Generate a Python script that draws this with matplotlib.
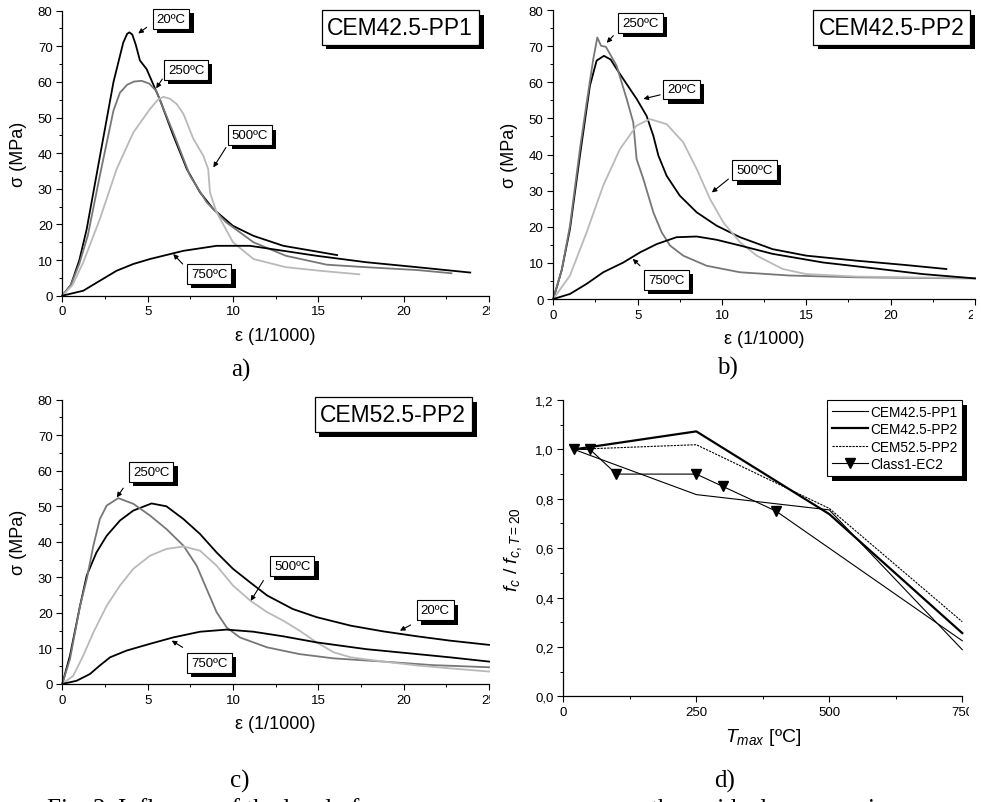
import matplotlib
matplotlib.use("Agg")
import matplotlib.pyplot as plt
import matplotlib.patheffects as pe
from matplotlib.ticker import MultipleLocator
from matplotlib.transforms import Bbox, TransformedBbox

plt.rcParams['font.family'] = ['Liberation Sans', 'DejaVu Sans']
plt.rcParams['mathtext.fontset'] = 'custom'
plt.rcParams['mathtext.rm'] = 'Liberation Sans'
plt.rcParams['mathtext.it'] = 'Liberation Sans:italic'

# ---- panel a) CEM42.5-PP1 ----
a_20_x = [0, 0.5, 1.0, 1.43, 2.2, 3.0, 3.57, 3.8, 3.93, 4.1, 4.3, 4.55, 4.94, 5.72, 6.5, 7.3, 8.07, 8.85, 10.0, 11.2, 12.95, 14.9, 16.1]
a_20_y = [0, 3, 10, 18.7, 39, 60, 71, 73.5, 73.9, 73.3, 70.5, 66, 63.6, 55, 45, 35.5, 29, 24.3, 19.6, 16.8, 14, 12.4, 11.4]
a_250_x = [0, 0.5, 1.0, 1.5, 2.2, 3.0, 3.38, 3.8, 4.2, 4.65, 5.1, 5.5, 6.5, 7.48, 8.46, 9.6, 11.2, 13.1, 15.5, 17.8, 20.8, 22.8]
a_250_y = [0, 3, 9, 17, 33.7, 52, 57, 59.2, 60.1, 60.3, 59.5, 57.5, 45.8, 33.7, 26.2, 20.6, 15, 11.2, 8.7, 8, 7.2, 6.3]
a_500_x = [0, 0.6, 1.23, 2.2, 3.18, 4.16, 5.14, 5.6, 5.92, 6.3, 6.7, 7.1, 7.68, 8.26, 8.55, 8.65, 9.04, 10.0, 11.2, 13.1, 15.1, 17.4]
a_500_y = [0, 3, 9.4, 21.5, 35.5, 45.8, 52.4, 55, 55.8, 55.3, 53.8, 51, 44, 39.3, 35.5, 29, 23.4, 15, 10.3, 8, 7, 6]
a_750_x = [0, 1.23, 2.2, 3.18, 4.16, 5.14, 7.1, 9.04, 11.0, 12.95, 14.9, 17.8, 20.8, 23.9]
a_750_y = [0, 1.4, 4.2, 7, 8.9, 10.3, 12.6, 14, 14, 12.6, 11.2, 9.4, 8, 6.5]

# ---- panel b) CEM42.5-PP2 ----
b_20_x = [0, 0.5, 0.99, 1.58, 2.17, 2.57, 3.0, 3.4, 3.75, 4.35, 4.94, 5.53, 5.93, 6.23, 6.72, 7.5, 8.5, 9.68, 11.07, 13.0, 15.0, 18.0, 20.9, 23.3]
b_20_y = [0, 8, 19.4, 39.7, 59, 66, 67.3, 66.3, 63.7, 59.5, 55.4, 50.7, 45.2, 39.7, 34.1, 28.6, 24, 20.3, 17.1, 13.8, 12, 10.6, 9.4, 8.3]
b_250_x = [0, 0.5, 0.99, 1.58, 1.98, 2.37, 2.61, 2.83, 3.12, 3.4, 3.75, 4.35, 4.74, 4.94, 5.34, 5.93, 6.42, 6.92, 7.7, 9.09, 11.07, 14.0, 18.0, 22.0, 25.0]
b_250_y = [0, 8, 20.3, 41.5, 54.4, 66.4, 72.4, 70.1, 69.8, 67.5, 64.6, 55.4, 48.9, 38.7, 33.2, 24, 18.5, 14.8, 12, 9.2, 7.4, 6.5, 6, 5.8, 5.7]
b_500_x = [0, 0.99, 1.98, 2.96, 3.95, 4.94, 5.73, 6.72, 7.7, 8.5, 9.29, 10.08, 11.07, 12.06, 13.6, 15.0, 18.0, 21.0, 25.0]
b_500_y = [0, 6.5, 18.5, 31.4, 41.5, 48, 49.8, 48.4, 43.4, 36, 27.7, 21.2, 15.7, 12, 8.3, 6.9, 6.2, 6.0, 5.8]
b_750_x = [0, 0.99, 1.98, 2.96, 4.15, 5.14, 6.13, 7.3, 8.5, 9.68, 11.07, 13.0, 16.0, 19.0, 21.9, 25.0]
b_750_y = [0, 1.4, 4.2, 7.4, 10.1, 12.9, 15.2, 17.1, 17.3, 16.4, 14.8, 12.5, 10.1, 8.5, 6.9, 5.7]

# ---- panel c) CEM52.5-PP2 ----
c_20_x = [0, 0.45, 1.04, 1.43, 2.0, 2.6, 3.38, 4.16, 5.23, 6.1, 7.1, 8.07, 9.04, 10.0, 11.0, 12.0, 13.5, 14.9, 16.9, 18.8, 20.8, 22.7, 25.0]
c_20_y = [0, 8, 22, 30.5, 37, 41.7, 46, 48.8, 50.8, 50, 46.4, 42.2, 37, 32.4, 28.6, 24.9, 21.1, 18.8, 16.4, 14.8, 13.4, 12.2, 11]
c_250_x = [0, 0.45, 1.04, 1.43, 1.82, 2.2, 2.6, 3.28, 4.16, 5.14, 6.1, 7.1, 7.87, 8.46, 9.04, 9.63, 10.4, 12.0, 13.9, 15.9, 18.8, 21.7, 25.0]
c_250_y = [0, 7, 22, 29.5, 38.9, 46.4, 50.2, 52.3, 50.7, 47.4, 43.6, 38.9, 33.3, 26.7, 20.2, 15.9, 13.1, 10.3, 8.4, 7.2, 6.3, 5.3, 4.7]
c_500_x = [0, 0.64, 1.23, 1.82, 2.6, 3.38, 4.16, 5.14, 6.1, 7.1, 8.07, 9.04, 10.0, 11.0, 12.0, 12.95, 13.9, 14.9, 15.9, 16.9, 18.8, 20.8, 22.7, 25.0]
c_500_y = [0, 2.3, 8, 14.5, 22, 27.7, 32.4, 36.1, 38, 38.7, 37.5, 33.3, 27.7, 23.5, 20.2, 17.8, 15, 11.7, 8.9, 7.5, 6.3, 5.2, 4.4, 3.5]
c_750_x = [0, 0.84, 1.62, 2.2, 2.8, 3.77, 5.14, 6.5, 8.07, 9.63, 11.2, 12.95, 14.9, 17.8, 20.8, 22.7, 25.0]
c_750_y = [0, 0.9, 2.8, 5.2, 7.5, 9.4, 11.3, 13.1, 14.7, 15.3, 14.7, 13.4, 11.7, 9.8, 8.4, 7.5, 6.3]

# ---- panel d) residual strength ----
t_max = [20, 250, 500, 750]
pp1_ratio = [1.0, 0.817, 0.755, 0.189]
pp2_ratio = [1.0, 1.073, 0.738, 0.256]
pp2_525_ratio = [1.0, 1.019, 0.761, 0.302]
ec2_t = [20, 50, 100, 250, 300, 400, 500, 750]
ec2_ratio = [1.0, 1.0, 0.9, 0.9, 0.85, 0.75, 0.6, 0.225]

eps_ticks = [0, 5, 10, 15, 20, 25]
sig_ticks = [0, 10, 20, 30, 40, 50, 60, 70, 80]
t_ticks = [0, 250, 500, 750]
ratio_ticks = [0.0, 0.2, 0.4, 0.6, 0.8, 1.0, 1.2]
ratio_labels = ['0,0', '0,2', '0,4', '0,6', '0,8', '1,0', '1,2']

temps = ['20ºC', '250ºC', '500ºC', '750ºC']
colors = ['black', '#777777', '#b9b9b9', 'black']

# label box centre, arrow tail, arrow head (data coords) for each temperature
a_notes = [((6.37, 77.6), (4.94, 75.3), (4.45, 73.6)),
           ((7.25, 63.3), (5.86, 60.8), (5.5, 58.2)),
           ((11.0, 45.0), (9.59, 41.6), (8.85, 36.0)),
           ((8.61, 6.0), (7.05, 8.9), (6.5, 11.7))]
b_notes = [((7.62, 58.0), (6.33, 56.5), (5.34, 55.4)),
           ((5.17, 76.5), (3.56, 72.9), (3.17, 70.9)),
           ((11.93, 35.6), (10.38, 33.2), (9.4, 29.5)),
           ((6.71, 5.3), (5.14, 9.2), (4.71, 11.1))]
c_notes = [((21.85, 20.7), (20.41, 16.6), (19.78, 15.0)),
           ((5.21, 59.7), (3.57, 55.1), (3.19, 52.5)),
           ((13.47, 33.1), (11.78, 29.1), (11.04, 23.4)),
           ((8.62, 5.9), (7.05, 10.3), (6.41, 12.2))]

fig = plt.figure(figsize=(9.81, 8.03), dpi=100)


def shadow_box(txt, off):
    txt.get_bbox_patch().set_path_effects(
        [pe.SimplePatchShadow(offset=(off, -off), shadow_rgbFace='black', alpha=1.0), pe.Normal()])


def clip_labels(ax, right_px):
    box = TransformedBbox(Bbox.from_extents(0, 0, right_px / 981, 1), fig.transFigure)
    for lab in ax.get_xticklabels():
        lab.set_clip_box(box)
        lab.set_clip_on(True)


def style_axes(ax):
    for s in ['top', 'right']:
        ax.spines[s].set_visible(False)
    for s in ['left', 'bottom']:
        ax.spines[s].set_linewidth(0.9)
    ax.tick_params(which='major', direction='out', length=4, width=0.8, labelsize=9.5, pad=3)
    ax.tick_params(which='minor', direction='out', length=2.5, width=0.7)


def stress_panel(rect, curves, notes, title, title_pos, clip_px):
    ax = fig.add_axes(rect)
    for (xs, ys), c in zip(curves, colors):
        ax.plot(xs, ys, color=c, lw=1.3, clip_on=False, solid_joinstyle='round')
    ax.set_xlim(0, 25)
    ax.set_ylim(0, 80)
    ax.set_xticks(eps_ticks)
    ax.set_yticks(sig_ticks)
    ax.xaxis.set_minor_locator(MultipleLocator(2.5))
    ax.yaxis.set_minor_locator(MultipleLocator(5))
    style_axes(ax)
    ax.set_xlabel('ε (1/1000)', fontsize=13, labelpad=7)
    ax.set_ylabel('σ (MPa)', fontsize=13, labelpad=8)
    for lab, (pos, tail, head) in zip(temps, notes):
        t = ax.text(pos[0], pos[1], lab, fontsize=9.5, ha='center', va='center', zorder=5,
                    bbox=dict(boxstyle='square,pad=0.3', fc='white', ec='black', lw=0.8))
        shadow_box(t, 3)
        ax.annotate('', xy=head, xytext=tail, zorder=5,
                    arrowprops=dict(arrowstyle='-|>', color='black', lw=0.8, mutation_scale=7,
                                    shrinkA=0, shrinkB=0))
    t = ax.text(title_pos[0], title_pos[1], title, fontsize=16.5, ha='center', va='center', zorder=5,
                bbox=dict(boxstyle='square,pad=0.25', fc='white', ec='black', lw=0.9))
    shadow_box(t, 3.5)
    clip_labels(ax, clip_px)
    return ax


stress_panel([0.0635, 0.6305, 0.435, 0.355],
             [(a_20_x, a_20_y), (a_250_x, a_250_y), (a_500_x, a_500_y), (a_750_x, a_750_y)],
             a_notes, 'CEM42.5-PP1', (19.8, 75.3), 490)
stress_panel([0.564, 0.6264, 0.4299, 0.3599],
             [(b_20_x, b_20_y), (b_250_x, b_250_y), (b_500_x, b_500_y), (b_750_x, b_750_y)],
             b_notes, 'CEM42.5-PP2', (20.07, 75.2), 973)
stress_panel([0.0635, 0.147, 0.435, 0.354],
             [(c_20_x, c_20_y), (c_250_x, c_250_y), (c_500_x, c_500_y), (c_750_x, c_750_y)],
             c_notes, 'CEM52.5-PP2', (19.39, 75.8), 490)

# ---- d) ----
ax = fig.add_axes([0.5742, 0.1316, 0.4067, 0.369])
ax.plot(t_max, pp1_ratio, color='black', lw=0.8, label='CEM42.5-PP1', clip_on=False)
ax.plot(t_max, pp2_ratio, color='black', lw=1.6, label='CEM42.5-PP2', clip_on=False)
ax.plot(t_max, pp2_525_ratio, color='black', lw=0.8, ls=(0, (2, 1)), label='CEM52.5-PP2', clip_on=False)
ax.plot(ec2_t, ec2_ratio, color='black', lw=0.8, marker='v', ms=7, markevery=list(range(6)),
        label='Class1-EC2', clip_on=False)
ax.set_xlim(0, 750)
ax.set_ylim(0, 1.2)
ax.set_xticks(t_ticks)
ax.set_yticks(ratio_ticks, labels=ratio_labels)
ax.xaxis.set_minor_locator(MultipleLocator(125))
ax.yaxis.set_minor_locator(MultipleLocator(0.1))
style_axes(ax)
ax.set_xlabel(r'$T_{max}$ [ºC]', fontsize=14, labelpad=6)
ax.set_ylabel(r'$f_c$ / $f_{c,T=20}$', fontsize=14, labelpad=8)
leg = ax.legend(loc='upper right', bbox_to_anchor=(1.0, 1.0), borderaxespad=0, fontsize=9.8,
                fancybox=False, edgecolor='black', framealpha=1, handlelength=2.6,
                labelspacing=0.25, borderpad=0.35, handletextpad=0.2, numpoints=1)
leg.get_frame().set_linewidth(0.8)
leg.get_frame().set_path_effects(
    [pe.SimplePatchShadow(offset=(3.5, -3.5), shadow_rgbFace='black', alpha=1.0), pe.Normal()])
clip_labels(ax, 969)

# captions
for lab, x, y in [('a)', 0.2457, 0.539), ('b)', 0.742, 0.541), ('c)', 0.2446, 0.0274), ('d)', 0.739, 0.0274)]:
    fig.text(x, y, lab, fontsize=18, family='Liberation Serif', ha='center', va='center')
# figure caption line, only its top edge lies inside the picture
fig.text(0.048, -0.0165, 'Fig. 3. Influence of the level of', fontsize=18, family='Liberation Serif',
         ha='left', va='baseline')
fig.text(0.6636, -0.0165, 'the residual compressive', fontsize=18, family='Liberation Serif',
         ha='left', va='baseline')

fig.savefig('out.png', dpi=100)
